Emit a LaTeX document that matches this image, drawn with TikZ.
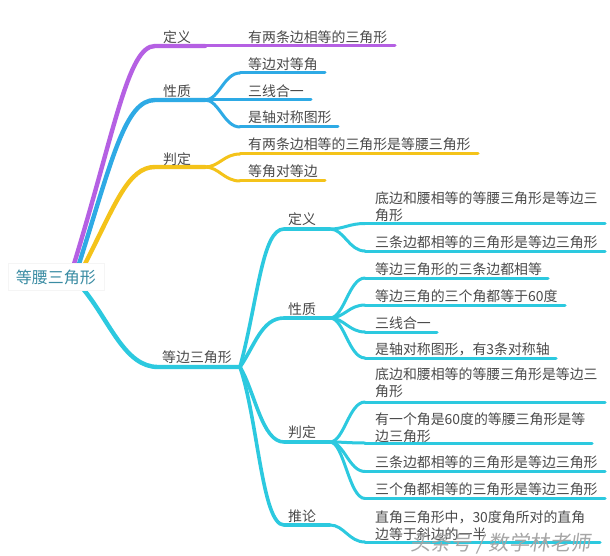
\documentclass[tikz,border=0pt]{standalone}
\usepackage{fontspec}
\setmainfont{Noto Sans CJK SC}
\usetikzlibrary{calc}
\definecolor{cPur}{HTML}{B560E3}
\definecolor{cBlu}{HTML}{2EAAE5}
\definecolor{cYel}{HTML}{F4C31A}
\definecolor{cCyn}{HTML}{2CC9DF}
\definecolor{cTxt}{HTML}{4A4A4A}
\definecolor{cRoot}{HTML}{3A8CA3}
\tikzset{
  lbl/.style={anchor=west, inner sep=0pt, text=cTxt, align=left,
    font=\fontsize{13.9}{17}\selectfont},
  rootbox/.style={fill=white, draw=black!4, line width=0.6pt, inner xsep=8pt,
    inner ysep=6pt, text=cRoot, font=\fontsize{16}{18}\selectfont},
  trunk/.style={line width=4.4pt, line cap=round},
  limb/.style={line width=3.6pt, line cap=round},
  twig/.style={line width=3pt, line cap=round},
  wmark/.style={inner sep=0pt, text=black!35, font=\fontsize{20.5}{21}\selectfont}
}
\newcommand{\twigto}[3]{\draw[twig,#1] (#2) .. controls +(14,0) and +(-16,0) .. (#3);}
\begin{document}
\begin{tikzpicture}[x=1pt,y=-1pt]
\useasboundingbox (0,0) rectangle (610,556);
\fill[white] (0,0) rectangle (610,556);

% ---------- coordinates ----------
\coordinate (r1) at (74,264);
\coordinate (r2) at (79,264);
\coordinate (r3) at (85,264);
\coordinate (r4) at (84,290);

\coordinate (pS) at (155,46);  \coordinate (pF) at (205,46);
\coordinate (bS) at (155,100); \coordinate (bF) at (205,100);
\coordinate (yS) at (155,167); \coordinate (yF) at (205,167);
\coordinate (cS) at (158,367); \coordinate (cF) at (240,367);

% level-1 leaves
\coordinate (pa) at (240,46);  \coordinate (pae) at (395,46);
\coordinate (ba) at (240,73);  \coordinate (bae) at (325,73);
\coordinate (bb) at (240,100); \coordinate (bbe) at (311,100);
\coordinate (bc) at (240,127); \coordinate (bce) at (338,127);
\coordinate (ya) at (240,154); \coordinate (yae) at (478,154);
\coordinate (yb) at (240,181); \coordinate (ybe) at (325,181);

% level-2
\coordinate (dS) at (284,229); \coordinate (dF) at (330,229);
\coordinate (xS) at (284,318); \coordinate (xF) at (330,318);
\coordinate (jS) at (284,442); \coordinate (jF) at (330,442);
\coordinate (tS) at (284,525); \coordinate (tF) at (330,525);

% level-3 leaves
\coordinate (d1) at (365,223.5); \coordinate (d1e) at (605,223.5);
\coordinate (d2) at (365,251);   \coordinate (d2e) at (605,251);
\coordinate (x1) at (365,278);   \coordinate (x1e) at (548,278);
\coordinate (x2) at (365,305);   \coordinate (x2e) at (565,305);
\coordinate (x3) at (365,332);   \coordinate (x3e) at (437,332);
\coordinate (x4) at (365,358);   \coordinate (x4e) at (556,358);
\coordinate (j1) at (365,402);   \coordinate (j1e) at (605,402);
\coordinate (j2) at (365,443);   \coordinate (j2e) at (592,443);
\coordinate (j3) at (365,471.5); \coordinate (j3e) at (605,471.5);
\coordinate (j4) at (365,498.5); \coordinate (j4e) at (605,498.5);
\coordinate (t1) at (365,542);   \coordinate (t1e) at (600,542);

% ---------- main branches ----------
\draw[trunk,cPur] (r1) .. controls (115,130) and (128,46) .. (pS) -- (pF);
\draw[trunk,cBlu] (r2) .. controls (112,160) and (125,100) .. (bS) -- (bF);
\draw[trunk,cYel] (r3) .. controls (115,205) and (128,167) .. (yS) -- (yF);
\draw[trunk,cCyn] (r4) .. controls (110,322) and (125,367) .. (cS) -- (cF);

% ---------- level-1 leaves ----------
\draw[twig,cPur] (pF) -- (pa) -- (pae);
\twigto{cBlu}{bF}{ba} \draw[twig,cBlu] (ba) -- (bae);
\twigto{cBlu}{bF}{bb} \draw[twig,cBlu] (bb) -- (bbe);
\twigto{cBlu}{bF}{bc} \draw[twig,cBlu] (bc) -- (bce);
\twigto{cYel}{yF}{ya} \draw[twig,cYel] (ya) -- (yae);
\twigto{cYel}{yF}{yb} \draw[twig,cYel] (yb) -- (ybe);

% ---------- level-2 ----------
\draw[limb,cCyn] (cF) .. controls (258,300) and (262,229) .. (dS) -- (dF);
\draw[limb,cCyn] (cF) .. controls (255,345) and (262,318) .. (xS) -- (xF);
\draw[limb,cCyn] (cF) .. controls (255,392) and (262,442) .. (jS) -- (jF);
\draw[limb,cCyn] (cF) .. controls (258,420) and (262,525) .. (tS) -- (tF);

% ---------- level-3 ----------
\twigto{cCyn}{dF}{d1} \draw[twig,cCyn] (d1) -- (d1e);
\twigto{cCyn}{dF}{d2} \draw[twig,cCyn] (d2) -- (d2e);
\twigto{cCyn}{xF}{x1} \draw[twig,cCyn] (x1) -- (x1e);
\twigto{cCyn}{xF}{x2} \draw[twig,cCyn] (x2) -- (x2e);
\twigto{cCyn}{xF}{x3} \draw[twig,cCyn] (x3) -- (x3e);
\twigto{cCyn}{xF}{x4} \draw[twig,cCyn] (x4) -- (x4e);
\twigto{cCyn}{jF}{j1} \draw[twig,cCyn] (j1) -- (j1e);
\twigto{cCyn}{jF}{j2} \draw[twig,cCyn] (j2) -- (j2e);
\twigto{cCyn}{jF}{j3} \draw[twig,cCyn] (j3) -- (j3e);
\twigto{cCyn}{jF}{j4} \draw[twig,cCyn] (j4) -- (j4e);
\twigto{cCyn}{tF}{t1} \draw[twig,cCyn] (t1) -- (t1e);

% ---------- root ----------
\node[rootbox] (root) at (56,277) {等腰三角形};

% ---------- labels ----------
\node[lbl] (ndy) at (163,37.5) {定义};
\node[lbl] (nxz) at (163,91) {性质};
\node[lbl] (npd) at (163,159) {判定};
\node[lbl] (ndb) at (162,357.5) {等边三角形};

\node[lbl] (la) at (248,37.5) {有两条边相等的三角形};
\node[lbl] (lb) at (248,64) {等边对等角};
\node[lbl] (lc) at (248,91) {三线合一};
\node[lbl] (ld) at (248,117.5) {是轴对称图形};
\node[lbl] (le) at (248,144) {有两条边相等的三角形是等腰三角形};
\node[lbl] (lf) at (248,171) {等角对等边};

\node[lbl] (m1) at (288,219) {定义};
\node[lbl] (m2) at (288,309) {性质};
\node[lbl] (m3) at (288,432) {判定};
\node[lbl] (m4) at (288,516) {推论};

\node[lbl] (k1) at (375,207) {底边和腰相等的等腰三角形是等边三\\角形};
\node[lbl] (k2) at (375,242.5) {三条边都相等的三角形是等边三角形};
\node[lbl] (k3) at (375,269) {等边三角形的三条边都相等};
\node[lbl] (k4) at (375,296) {等边三角的三个角都等于60度};
\node[lbl] (k5) at (375,323) {三线合一};
\node[lbl] (k6) at (375,349) {是轴对称图形，有3条对称轴};
\node[lbl] (k7) at (375,382.5) {底边和腰相等的等腰三角形是等边三\\角形};
\node[lbl] (k8) at (375,427.5) {有一个角是60度的等腰三角形是等\\边三角形};
\node[lbl] (k9) at (375,462) {三条边都相等的三角形是等边三角形};
\node[lbl] (k10) at (375,489) {三个角都相等的三角形是等边三角形};
\node[lbl] (k11) at (375,526) {直角三角形中，30度角所对的直角\\边等于斜边的一半};

% ---------- watermark ----------
\node[wmark, anchor=west] (wm) at (410,544) {\addfontfeature{FakeSlant=0.15}头条号 / 数学林老师};
\end{tikzpicture}
\end{document}
